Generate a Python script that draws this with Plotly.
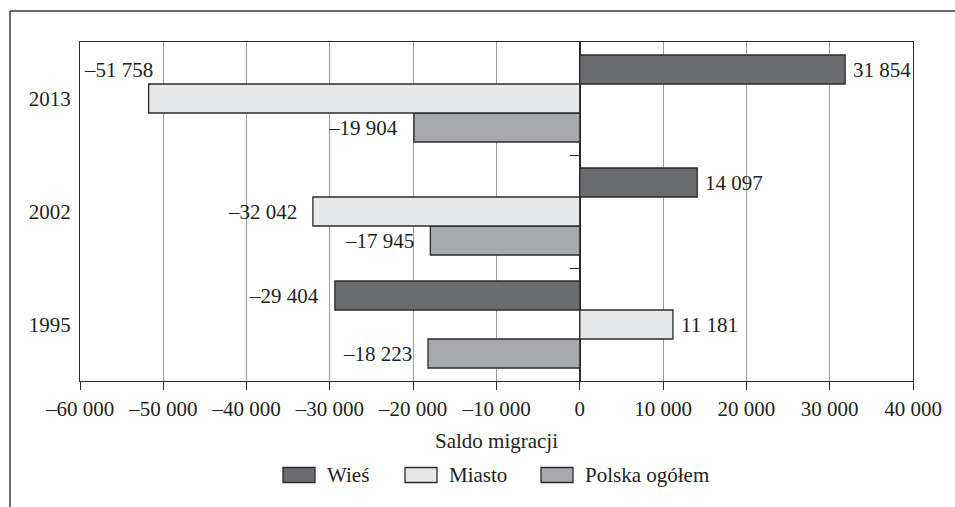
import plotly.graph_objects as go

# Net migration balance by place of residence
years = ["2013", "2002", "1995"]
series_names = ["Wieś", "Miasto", "Polska ogółem"]
wies = [31854, 14097, -29404]
miasto = [-51758, -32042, 11181]
polska = [-19904, -17945, -18223]
x_ticks = [-60000, -50000, -40000, -30000, -20000, -10000, 0, 10000, 20000, 30000, 40000]
x_title = "Saldo migracji"

series_values = [wies, miasto, polska]
fills = ["#6b6c70", "#e6e7e9", "#a8a9ac"]
edge = "#2b2b2b"
ink = "#231f20"
font_family = "'Liberation Serif', 'DejaVu Serif', 'Times New Roman', serif"
font_size = 21

# page geometry (pixels)
W, H = 955, 507
ML, MR, MT, MB = 80, 42, 42, 126
PW, PH = W - ML - MR, H - MT - MB
BARGAP = 0.23


def px_x(px):
    return (px - ML) / PW


def px_y(py):
    return (H - MB - py) / PH


def fmt(v):
    s = f"{abs(v):,}".replace(",", " ")
    return ("\u2013" + s) if v < 0 else s


cat_order = years[::-1]  # bottom to top
xmin, xmax = x_ticks[0], x_ticks[-1]

fig = go.Figure()
# add bottom bar of each group first so Wieś sits on top
for name, vals, color in reversed(list(zip(series_names, series_values, fills))):
    fig.add_trace(go.Bar(
        y=years, x=vals, name=name, orientation="h",
        marker=dict(color=color, line=dict(color=edge, width=1.3)),
        showlegend=False, hoverinfo="x+y",
    ))

# empty trace that activates the tick axis on the zero line
fig.add_trace(go.Scatter(x=[None], y=[None], yaxis="y2", mode="markers",
                         showlegend=False, hoverinfo="skip"))

# value labels next to bar ends
n = len(series_names)
slot = (1 - BARGAP) / n
lift = {("Miasto", "2013"): 1}  # label moved up one slot where it would not fit
annotations = []
for si, (name, vals) in enumerate(zip(series_names, series_values)):
    k = n - 1 - si  # slot index from the bottom of the group
    for yr, v in zip(years, vals):
        ci = cat_order.index(yr)
        up = lift.get((name, yr), 0)
        yv = ci + (k - (n - 1) / 2 + up) * slot
        if up:
            xa, xs = "right", 6
        elif v < 0:
            xa, xs = "right", -14
        else:
            xa, xs = "left", 6
        annotations.append(dict(
            x=v, y=yv, xref="x", yref="y", text=fmt(v), showarrow=False,
            xanchor=xa, yanchor="middle", xshift=xs,
            font=dict(family=font_family, size=font_size, color=ink),
        ))

# legend drawn as swatches with labels below the axis title
legend_left = [283, 405, 541]
sw_w, sw_h, sw_cy = 32, 15, 475
shapes = []
for name, color, lx in zip(series_names, fills, legend_left):
    shapes.append(dict(
        type="rect", xref="paper", yref="paper",
        x0=px_x(lx), x1=px_x(lx + sw_w),
        y0=px_y(sw_cy + sw_h / 2), y1=px_y(sw_cy - sw_h / 2),
        fillcolor=color, line=dict(color=edge, width=1.3),
    ))
    annotations.append(dict(
        x=px_x(lx + sw_w + 10), y=px_y(sw_cy), xref="paper", yref="paper",
        text=name, showarrow=False, xanchor="left", yanchor="middle",
        font=dict(family=font_family, size=font_size, color=ink),
    ))

# outer frame (top and left edges)
frame = dict(color="#3a3a3a", width=1.5)
shapes.append(dict(type="line", xref="paper", yref="paper",
                   x0=px_x(10), x1=px_x(W + 5), y0=px_y(11), y1=px_y(11), line=frame))
shapes.append(dict(type="line", xref="paper", yref="paper",
                   x0=px_x(10), x1=px_x(10), y0=px_y(11), y1=px_y(H + 5), line=frame))

fig.update_layout(
    width=W, height=H,
    margin=dict(l=ML, r=MR, t=MT, b=MB, pad=0),
    paper_bgcolor="white", plot_bgcolor="white",
    barmode="group", bargap=BARGAP, bargroupgap=0,
    font=dict(family=font_family, size=font_size, color=ink),
    showlegend=False,
    annotations=annotations,
    shapes=shapes,
    xaxis=dict(
        range=[xmin, xmax], tickvals=x_ticks, ticktext=[fmt(t) for t in x_ticks],
        showgrid=True, gridcolor="#9d9d9d", gridwidth=1,
        zeroline=True, zerolinecolor="#2b2b2b", zerolinewidth=1.5,
        showline=True, linecolor="#2b2b2b", linewidth=1.3, mirror=True,
        ticks="outside", ticklen=8, tickwidth=1.3, tickcolor="#2b2b2b",
        ticklabelstandoff=1,
        title=dict(text=x_title, standoff=12,
                   font=dict(family=font_family, size=font_size, color=ink)),
        fixedrange=True,
    ),
    yaxis=dict(
        type="category", categoryorder="array", categoryarray=cat_order,
        range=[-0.5, len(years) - 0.5],
        showgrid=False, zeroline=False,
        showline=True, linecolor="#2b2b2b", linewidth=1.3, mirror=True,
        ticks="", ticklabelstandoff=4,
        fixedrange=True,
    ),
    # small ticks on the zero line separating the year groups
    yaxis2=dict(
        overlaying="y", anchor="free", side="left",
        position=(0 - xmin) / (xmax - xmin),
        range=[-0.5, len(years) - 0.5],
        tickvals=[i + 0.5 for i in range(len(years) - 1)],
        ticks="outside", ticklen=10, tickwidth=1.3, tickcolor="#2b2b2b",
        showticklabels=False, showgrid=False, zeroline=False, showline=False,
        fixedrange=True,
    ),
)

fig.write_html("out.html")
